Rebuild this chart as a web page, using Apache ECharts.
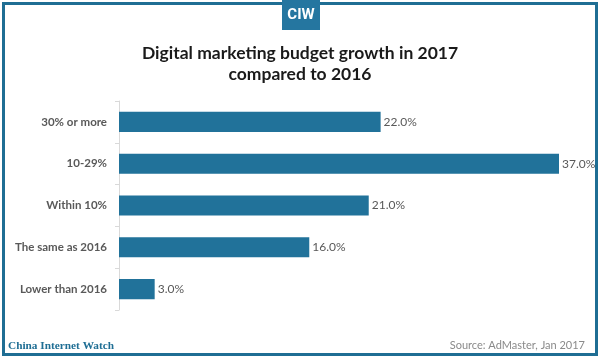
<!DOCTYPE html>
<html><head><meta charset="utf-8">
<script src="https://cdn.jsdelivr.net/npm/echarts@6/dist/echarts.min.js"></script>
<style>html,body{margin:0;padding:0;background:#fff}#c{width:600px;height:359px}</style>
</head><body><div id="c"></div>
<script>
const categories = ['30% or more', '10-29%', 'Within 10%', 'The same as 2016', 'Lower than 2016'];
const values = [22.0, 37.0, 21.0, 16.0, 3.0];
const titleText = 'Digital marketing budget growth in 2017\ncompared to 2016';
const brand = 'China Internet Watch';
const source = 'Source: AdMaster, Jan 2017';
const logo = 'CIW';

const chart = echarts.init(document.getElementById('c'), null, {renderer: 'canvas'});
const blue = '#21729a';
chart.setOption({
  animation: false,
  backgroundColor: '#fff',
  title: {
    text: titleText, left: 'center', top: 38,
    textStyle: {fontFamily: 'Lato', fontWeight: 'bold', fontSize: 17.5, color: '#1a1a1a', lineHeight: 21}
  },
  grid: {left: 119, right: 41, top: 101, bottom: 49, containLabel: false},
  xAxis: {type: 'value', min: 0, max: 37, show: false},
  yAxis: {
    type: 'category', data: categories, inverse: true,
    axisLine: {show: true, lineStyle: {color: '#d9d9d9', width: 1}},
    axisTick: {show: true, length: 4, lineStyle: {color: '#d9d9d9'}},
    axisLabel: {color: '#595959', fontFamily: 'Lato', fontWeight: 'bold', fontSize: 11.5, margin: 12}
  },
  series: [{
    type: 'bar', data: values, barWidth: '48%',
    itemStyle: {color: blue},
    label: {show: true, position: 'right', distance: 3, color: '#595959', fontFamily: 'Lato', fontSize: 12,
      formatter: p => p.value.toFixed(1) + '%'}
  }],
  graphic: [
    {type: 'rect', shape: {x: 3.5, y: 3.5, width: 593, height: 351}, style: {fill: 'none', stroke: '#1f6e94', lineWidth: 3}, z: 10},
    {type: 'rect', shape: {x: 282, y: 0, width: 38, height: 30}, style: {fill: '#2576a0'}, z: 11},
    {type: 'text', x: 301, y: 15, style: {text: logo, fill: '#fff', font: 'bold 15px "Liberation Sans Narrow", "Roboto", sans-serif', textAlign: 'center', textVerticalAlign: 'middle'}, z: 12},
    {type: 'text', x: 8, y: 346, style: {text: brand, fill: '#1f6e94', font: 'bold 11.3px "Liberation Serif", serif', textAlign: 'left', textVerticalAlign: 'middle'}, z: 12},
    {type: 'text', x: 585, y: 345, style: {text: source, fill: '#8a8a8a', font: '11px "Lato", sans-serif', textAlign: 'right', textVerticalAlign: 'middle'}, z: 12}
  ]
});
</script></body></html>
